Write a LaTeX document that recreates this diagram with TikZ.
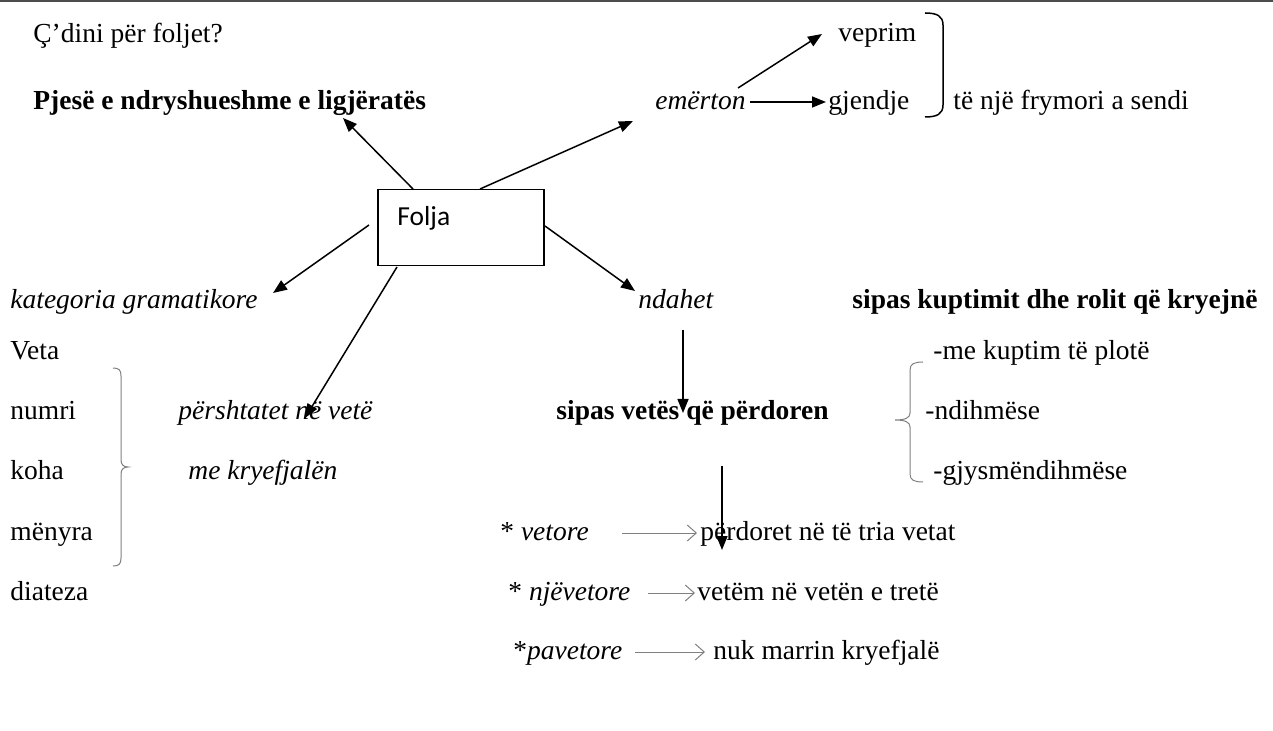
\documentclass[tikz,border=0pt]{standalone}
\usepackage{fontspec}
\setmainfont{Liberation Serif}
\newfontfamily\sansf{Carlito}
\usetikzlibrary{arrows.meta,calc}
\newcommand{\fs}{\fontsize{13.75}{16}\selectfont}
\begin{document}
\begin{tikzpicture}[x=0.5pt,y=-0.5pt,
  txt/.style={anchor=base west, inner sep=0pt, font=\fs},
  arr/.style={-{Triangle[length=7pt,width=5.5pt]}, line width=0.75pt},
  garr/.style={-{Straight Barb[length=4.5pt,width=8pt,line width=0.5pt]}, draw=gray, line width=0.5pt},
  brace/.style={draw=gray, line width=0.5pt},
  bracket/.style={draw=black, line width=0.75pt}]
\useasboundingbox (0,0) rectangle (1273,731);
\draw[line width=1pt, draw=black!70] (0,1) -- (1273,1);

\node[txt] (q) at (33,43) {Ç’dini për foljet?};
\node[txt, font=\fs\bfseries] (pj) at (33,110) {Pjesë e ndryshueshme e ligjëratës};
\node[txt, font=\fs\itshape] (em) at (655,110) {emërton};
\node[txt] (gj) at (828,110) {gjendje};
\node[txt] (ve) at (838,42) {veprim};
\node[txt] (tn) at (953,110) {të një frymori a sendi};

\node[draw, line width=0.75pt, minimum width=83pt, minimum height=38pt, anchor=north west, inner sep=0pt] (box) at (377,189) {};
\node[txt, font=\fs\sansf] (folja) at (397,226) {Folja};

\node[txt, font=\fs\itshape] (kat) at (10,309) {kategoria gramatikore};
\node[txt, font=\fs\itshape] (nd) at (638,309) {ndahet};
\node[txt, font=\fs\bfseries] (sk) at (852,309) {sipas kuptimit dhe rolit që kryejnë};

\node[txt] (veta) at (10,360) {Veta};
\node[txt] (numri) at (10,420) {numri};
\node[txt] (koha) at (10,480) {koha};
\node[txt] (menyra) at (10,540) {mënyra};
\node[txt] (diateza) at (10,600) {diateza};

\node[txt, font=\fs\itshape] (pe) at (178,420) {përshtatet në vetë};
\node[txt, font=\fs\itshape] (mk) at (188,480) {me kryefjalën};
\node[txt, font=\fs\bfseries] (sv) at (556,420) {sipas vetës që përdoren};

\node[txt] (mkp) at (933,360) {-me kuptim të plotë};
\node[txt] (ndi) at (925,420) {-ndihmëse};
\node[txt] (gjy) at (933,480) {-gjysmëndihmëse};

\node[txt] (v1) at (500,540) {* \textit{vetore}};
\node[txt] (pd) at (700,540) {përdoret në të tria vetat};
\node[txt] (v2) at (508,600) {* \textit{njëvetore}};
\node[txt] (vt) at (697,600) {vetëm në vetën e tretë};
\node[txt] (v3) at (513,659) {*\textit{pavetore}};
\node[txt] (nk) at (713,659) {nuk marrin kryefjalë};

% arrow end points
\coordinate (a1s) at (413,189); \coordinate (a1e) at (343,118);
\coordinate (a2s) at (480,189); \coordinate (a2e) at (633,121);
\coordinate (a3s) at (369,225); \coordinate (a3e) at (273,293);
\coordinate (a4s) at (397,267); \coordinate (a4e) at (305,418);
\coordinate (a5s) at (545,226); \coordinate (a5e) at (635,291);
\coordinate (a6s) at (683,330); \coordinate (a6e) at (683,413);
\coordinate (a7s) at (722,466); \coordinate (a7e) at (722,550);
\coordinate (a9s) at (738,88);  \coordinate (a9e) at (822,34);
\coordinate (g1s) at (622,533); \coordinate (g1e) at (697,533);
\coordinate (g2s) at (648,593); \coordinate (g2e) at (695,593);
\coordinate (g3s) at (635,652); \coordinate (g3e) at (705,652);

\draw[arr] (a1s) -- (a1e);
\draw[arr] (a2s) -- (a2e);
\draw[arr] (a3s) -- (a3e);
\draw[arr] (a4s) -- (a4e);
\draw[arr] (a5s) -- (a5e);
\draw[arr] (a6s) -- (a6e);
\draw[arr] (a7s) -- (a7e);
\draw[arr] ([xshift=2pt,yshift=4pt]em.base east) -- ([xshift=-1pt,yshift=4pt]gj.base west);
\draw[arr] (a9s) -- (a9e);
\draw[garr] (g1s) -- (g1e);
\draw[garr] (g2s) -- (g2e);
\draw[garr] (g3s) -- (g3e);

% top right bracket
\draw[bracket] (925,13) .. controls (937,13) and (943,16) .. (943,25) -- (943,105) .. controls (943,114) and (937,117) .. (925,117);
% left brace
\draw[brace] (113,368) .. controls (119,368) and (121,370) .. (121,376) -- (121,460) .. controls (121,465) and (124,467) .. (128,467) .. controls (124,467) and (121,469) .. (121,474) -- (121,558) .. controls (121,564) and (119,566) .. (113,566);
% right brace
\draw[brace] (923,362) .. controls (914,362) and (910,364) .. (910,370) -- (910,413) .. controls (910,418) and (905,420) .. (895,420) .. controls (905,420) and (910,422) .. (910,427) -- (910,474) .. controls (910,480) and (914,482) .. (923,482);
\end{tikzpicture}
\end{document}
